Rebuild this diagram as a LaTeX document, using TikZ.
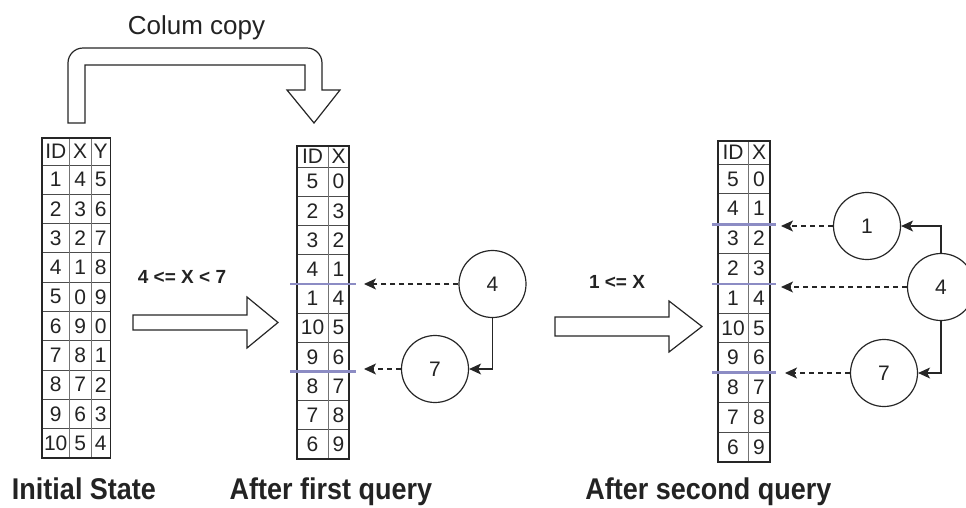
\documentclass[tikz,border=0pt]{standalone}
\usepackage{fontspec}
\setmainfont{Liberation Sans}
\newfontfamily\capfont[FakeStretch=0.90]{Liberation Sans}
\usetikzlibrary{arrows.meta}
\definecolor{splitblue}{RGB}{140,140,196}
\definecolor{inkgray}{RGB}{35,35,35}

\begin{document}
\begin{tikzpicture}[x=1pt,y=-1pt,
  cell/.style={font=\fontsize{21}{21}\selectfont, inner sep=0pt, text=inkgray},
  gridline/.style={draw=black!55, line width=0.9pt},
  rowline/.style={draw=black!70, line width=0.9pt},
  frame/.style={draw=black!85, line width=1.6pt},
  split/.style={draw=splitblue, line width=2.6pt},
  bubble/.style={circle, draw=black!85, line width=1.2pt, minimum size=67pt,
    inner sep=0pt, font=\fontsize{21}{21}\selectfont, text=inkgray},
  ptr/.style={draw=black!85, line width=1.1pt, dash pattern=on 5pt off 4pt,
    -{Stealth[length=12pt,width=11pt,inset=3pt]}},
  link/.style={draw=black!85, line width=1.1pt,
    -{Stealth[length=12pt,width=11pt,inset=3pt]}},
  blockarrow/.style={draw=black!85, line width=1.2pt, fill=white, line join=miter},
  caption/.style={font=\capfont\bfseries\fontsize{30}{30}\selectfont, inner sep=0pt,
    anchor=base, text=inkgray},
  cond/.style={font=\bfseries\fontsize{19}{19}\selectfont, inner sep=0pt, text=inkgray}
]
\useasboundingbox (0,0) rectangle (966,507);
\clip (0,0) rectangle (966,507);

% ---------- column copy arrow ----------
\node[font=\fontsize{26}{26}\selectfont, inner sep=0pt, anchor=base, text=inkgray]
  (copylabel) at (196.5,34) {Colum copy};
\draw[blockarrow] (68,123) -- (68,63) arc[start angle=180,end angle=270,radius=15]
  -- (307,48) arc[start angle=270,end angle=360,radius=15]
  -- (322,90) -- (340,90) -- (314,123) -- (287,90) -- (305,90)
  -- (305,65) -- (85,65) -- (85,123) -- cycle;

% ---------- table 1: initial state ----------
\foreach \k in {0,...,9}
  \draw[rowline] (42,{165+29.3*\k}) -- (110.5,{165+29.3*\k});
\draw[gridline] (69.5,138) -- (69.5,458);
\draw[gridline] (91,138) -- (91,458);
\draw[frame] (42,138) rectangle (110.5,458);
\node[cell] (t1-h1) at (55.75,151.5) {ID};
\node[cell] (t1-h2) at (80.25,151.5) {X};
\node[cell] (t1-h3) at (100.75,151.5) {Y};
\foreach \a/\b/\c [count=\k] in {1/4/5,2/3/6,3/2/7,4/1/8,5/0/9,6/9/0,7/8/1,8/7/2,9/6/3,10/5/4} {
  \node[cell] (t1-\k-1) at (55.75,{165+29.3*(\k-0.5)}) {\a};
  \node[cell] (t1-\k-2) at (80.25,{165+29.3*(\k-0.5)}) {\b};
  \node[cell] (t1-\k-3) at (100.75,{165+29.3*(\k-0.5)}) {\c};
}

% ---------- table 2: after first query ----------
\foreach \k in {0,...,9}
  \draw[rowline] (297,{167+29.2*\k}) -- (349,{167+29.2*\k});
\draw[gridline] (328,146) -- (328,459);
\draw[frame] (297,146) rectangle (349,459);
\node[cell] (t2-h1) at (312.5,156.5) {ID};
\node[cell] (t2-h2) at (338.5,156.5) {X};
\foreach \a/\b [count=\k] in {5/0,2/3,3/2,4/1,1/4,10/5,9/6,8/7,7/8,6/9} {
  \node[cell] (t2-\k-1) at (312.5,{167+29.2*(\k-0.5)}) {\a};
  \node[cell] (t2-\k-2) at (338.5,{167+29.2*(\k-0.5)}) {\b};
}
\draw[split] (290,283.8) -- (356,283.8);
\draw[split] (290,371.4) -- (356,371.4);

% ---------- table 3: after second query ----------
\foreach \k in {0,...,9}
  \draw[rowline] (718,{164+29.8*\k}) -- (770,{164+29.8*\k});
\draw[gridline] (748,141) -- (748,462);
\draw[frame] (718,141) rectangle (770,462);
\node[cell] (t3-h1) at (733,152.5) {ID};
\node[cell] (t3-h2) at (759,152.5) {X};
\foreach \a/\b [count=\k] in {5/0,4/1,3/2,2/3,1/4,10/5,9/6,8/7,7/8,6/9} {
  \node[cell] (t3-\k-1) at (733,{164+29.8*(\k-0.5)}) {\a};
  \node[cell] (t3-\k-2) at (759,{164+29.8*(\k-0.5)}) {\b};
}
\draw[split] (712,224.5) -- (776,224.5);
\draw[split] (712,284) -- (776,284);
\draw[split] (712,372.6) -- (776,372.6);

% ---------- transition arrows ----------
\node[cond] (q1) at (182,277) {4 <= X < 7};
\draw[blockarrow] (133,315) -- (247,315) -- (247,297) -- (278,322.5)
  -- (247,348) -- (247,330) -- (133,330) -- cycle;
\node[cond] (q2) at (617,282) {1 <= X};
\draw[blockarrow] (555,317) -- (669,317) -- (669,301) -- (702,326.5)
  -- (669,352) -- (669,336) -- (555,336) -- cycle;

% ---------- split tree after first query ----------
\node[bubble] (a4) at (492.5,284) {4};
\node[bubble] (a7) at (435,369) {7};
\coordinate (a4tip) at (364,284);
\coordinate (a7tip) at (364,369);
\draw[ptr] (a4.west) -- (a4tip);
\draw[ptr] (a7.west) -- (a7tip);
\draw[link] (a4.south) |- (a7.east);

% ---------- split tree after second query ----------
\node[bubble] (b1) at (867,226) {1};
\node[bubble] (b4) at (941,287) {4};
\node[bubble] (b7) at (884,373) {7};
\coordinate (b1tip) at (781,226);
\coordinate (b4tip) at (781,287);
\coordinate (b7tip) at (785,373);
\draw[ptr] (b1.west) -- (b1tip);
\draw[ptr] (b4.west) -- (b4tip);
\draw[ptr] (b7.west) -- (b7tip);
\draw[link] (b4.north) |- (b1.east);
\draw[link] (b4.south) |- (b7.east);

% ---------- captions ----------
\node[caption] (c1) at (84,499) {Initial State};
\node[caption] (c2) at (331,499) {After first query};
\node[caption] (c3) at (708.5,499) {After second query};
\end{tikzpicture}
\end{document}
